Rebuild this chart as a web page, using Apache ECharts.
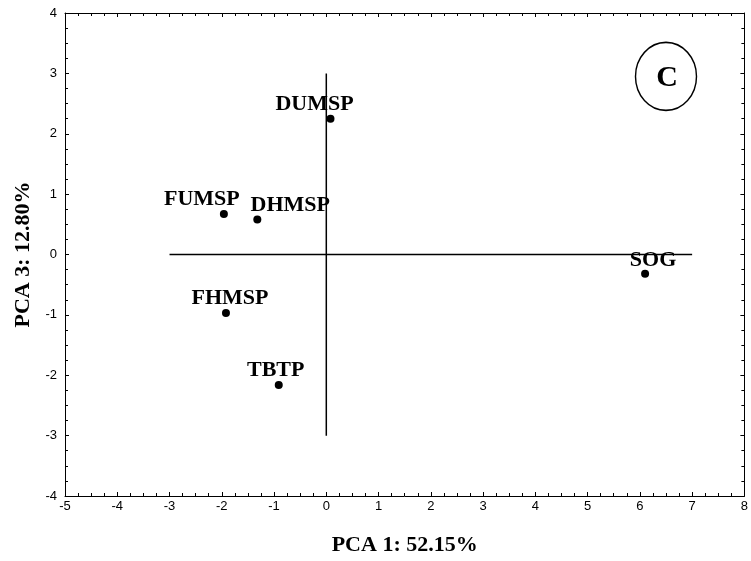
<!DOCTYPE html>
<html><head><meta charset="utf-8">
<script src="https://cdn.jsdelivr.net/npm/echarts@6/dist/echarts.min.js"></script>
<style>html,body{margin:0;padding:0;background:#fff}#c{width:751px;height:561px}</style>
</head><body><div id="c"></div>
<script>
const names = ['DUMSP','FUMSP','DHMSP','FHMSP','TBTP','SOG'];
const pc1 = [0.08, -1.96, -1.32, -1.92, -0.91, 6.10];
const pc3 = [2.25, 0.67, 0.58, -0.97, -2.16, -0.32];
const labelOffsets = [[-16,0],[-22,-1],[33,0],[4,-1],[-3,-1],[8,0]];
const hLine = [[-3,0],[7,0]];
const vLine = [[0,-3],[0,3]];
const panel = {x: 6.5, y: 2.95, text: 'C'};
const xTicks = {min:-5, max:8, interval:1};
const yTicks = {min:-4, max:4, interval:1};

const serif = '"Liberation Serif","Times New Roman",serif';
const sans = '"Liberation Sans",Arial,sans-serif';
const axisCol = '#000';

function axisBase(showLabels){
  return {
    axisLine:{show:true, onZero:false, lineStyle:{color:axisCol, width:1}},
    axisTick:{show:true, inside:true, length:4, lineStyle:{color:axisCol}},
    minorTick:{show:true, splitNumber:4, length:3, lineStyle:{color:axisCol}},
    splitLine:{show:false},
    axisLabel:{show:showLabels, color:'#000', fontFamily:sans, fontSize:13}
  };
}

const chart = echarts.init(document.getElementById('c'));
chart.setOption({
  animation:false,
  backgroundColor:'#fff',
  grid:{left:65, right:6, top:13, bottom:65},
  xAxis:[
    Object.assign(axisBase(true), {type:'value', position:'bottom', min:xTicks.min, max:xTicks.max, interval:xTicks.interval,
      name:'PCA 1: 52.15%', nameLocation:'middle', nameGap:38,
      nameTextStyle:{fontFamily:serif, fontWeight:'bold', fontSize:22, color:'#000'},
      axisLabel:{color:'#000', fontFamily:sans, fontSize:13, margin:4}}),
    Object.assign(axisBase(false), {type:'value', position:'top', min:xTicks.min, max:xTicks.max, interval:xTicks.interval})
  ],
  yAxis:[
    Object.assign(axisBase(true), {type:'value', position:'left', min:yTicks.min, max:yTicks.max, interval:yTicks.interval,
      name:'PCA 3: 12.80%', nameLocation:'middle', nameGap:29,
      nameTextStyle:{fontFamily:serif, fontWeight:'bold', fontSize:22, color:'#000'},
      axisLabel:{color:'#000', fontFamily:sans, fontSize:13, margin:8}}),
    Object.assign(axisBase(false), {type:'value', position:'right', min:yTicks.min, max:yTicks.max, interval:yTicks.interval})
  ],
  series:[
    {type:'line', data:hLine, symbol:'none', lineStyle:{color:'#000', width:1.5}, silent:true},
    {type:'line', data:vLine, symbol:'none', lineStyle:{color:'#000', width:1.5}, silent:true},
    {type:'scatter', symbol:'circle', symbolSize:8, itemStyle:{color:'#000', opacity:1},
      data: names.map((n,i)=>({value:[pc1[i], pc3[i]], name:n,
        label:{show:true, position:'top', distance:-1, offset:labelOffsets[i], formatter:n,
          fontFamily:serif, fontWeight:'bold', fontSize:22, color:'#000'}}))},
    {type:'scatter', symbol:'circle', symbolSize:[61,68],
      itemStyle:{color:'rgba(0,0,0,0)', borderColor:'#000', borderWidth:1.5, opacity:1},
      data:[{value:[panel.x, panel.y], label:{show:true, position:'inside', formatter:panel.text,
        fontFamily:serif, fontWeight:'bold', fontSize:30, color:'#000', offset:[1,2]}}]}
  ]
});
</script></body></html>
